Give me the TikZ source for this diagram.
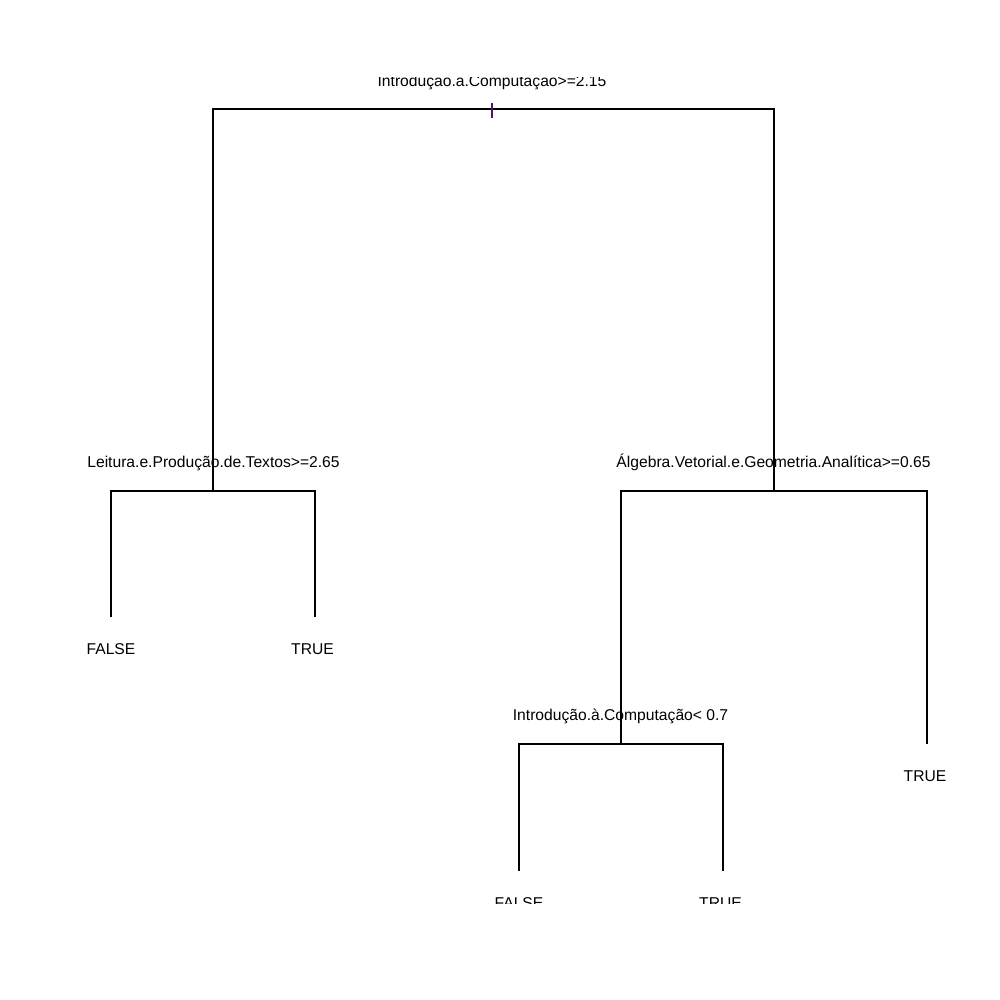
\documentclass[tikz,border=0pt]{standalone}
\usepackage{fontspec}
\setmainfont{Liberation Sans}
\usetikzlibrary{positioning}

\begin{document}
\begin{tikzpicture}
  [x=0.01cm,y=-0.01cm,
  branch/.style={black,line width=0.3pt},
  splitmark/.style={draw={rgb,255:red,75;green,20;blue,120},line width=0.3pt},
  lbl/.style={anchor=base,inner sep=0pt,font=\fontsize{4.45pt}{5pt}\selectfont}]
  \useasboundingbox (0,0) rectangle (1000,1000);
  \clip (0,77) rectangle (1000,903);

  \coordinate (1) at (492,109);
  \coordinate (2) at (213,491);
  \coordinate (3) at (774,491);
  \coordinate (4) at (111,617);
  \coordinate (5) at (315,617);
  \coordinate (6) at (621,744);
  \coordinate (7) at (927,744);
  \coordinate (8) at (519,871);
  \coordinate (9) at (723,871);
  \coordinate (t1) at (492,103);
  \coordinate (t2) at (492,118);

  \draw [branch] (2) |- (1) -| (3);
  \draw [branch] (4) |- (2) -| (5);
  \draw [branch] (6) |- (3) -| (7);
  \draw [branch] (8) |- (6) -| (9);
  \draw [splitmark] (t1) -- (t2);

  \node[lbl] (l1) at (492,86) {Introdução.à.Computação>=2.15};
  \node[lbl] (l2) at (213.5,467) {Leitura.e.Produção.de.Textos>=2.65};
  \node[lbl] (l3) at (773.5,467) {Álgebra.Vetorial.e.Geometria.Analítica>=0.65};
  \node[lbl] (l4) at (111,654) {FALSE};
  \node[lbl] (l5) at (312.5,654) {TRUE};
  \node[lbl] (l6) at (620.5,720) {Introdução.à.Computação< 0.7};
  \node[lbl] (l7) at (925,781) {TRUE};
  \node[lbl] (l8) at (519,908) {FALSE};
  \node[lbl] (l9) at (720.5,908) {TRUE};
\end{tikzpicture}
\end{document}
